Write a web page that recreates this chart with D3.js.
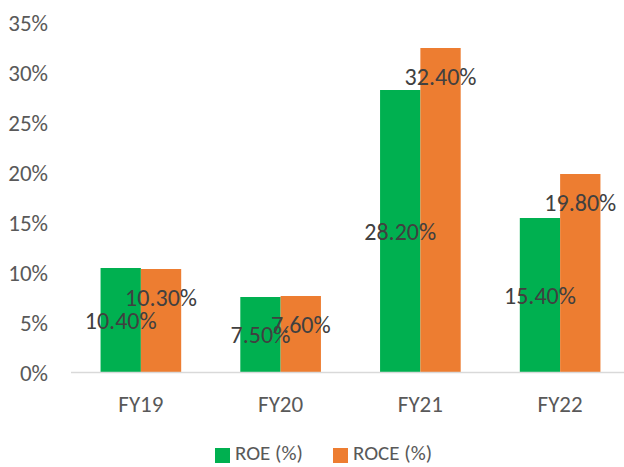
<!DOCTYPE html>
<html><head><meta charset="utf-8">
<script src="https://cdn.jsdelivr.net/npm/d3@7"></script>
<style>html,body{margin:0;padding:0;background:#fff;}</style>
</head><body>
<svg id="chart" width="624" height="467"></svg>
<script>
const categories = ["FY19", "FY20", "FY21", "FY22"];
const roe = [10.4, 7.5, 28.2, 15.4];
const roce = [10.3, 7.6, 32.4, 19.8];
const seriesNames = ["ROE (%)", "ROCE (%)"];
const yTicks = [0, 5, 10, 15, 20, 25, 30, 35];
const colors = ["#00B050", "#ED7D31"];

(function () {
const font = "Carlito, Calibri, Lato, sans-serif";
const svg = d3.select("#chart");
const mLeft = 71, mRight = 630, mTop = 22, mBottom = 372;

const x = d3.scaleBand().domain(categories).range([mLeft, mRight]).paddingInner(0.423).paddingOuter(0.2115);
const x1 = d3.scaleBand().domain([0, 1]).range([0, x.bandwidth()]);
const y = d3.scaleLinear().domain([0, 35]).range([mBottom, mTop]);

const yAxis = d3.axisLeft(y).tickValues(yTicks).tickFormat(d => d + "%").tickSize(0).tickPadding(0);
const gy = svg.append("g").attr("transform", `translate(48,0)`).call(yAxis);
gy.select(".domain").remove();
gy.selectAll("text").attr("font-family", font).attr("font-size", 23).attr("fill", "#595959").attr("dy", "0.36em");

const series = [roe, roce];
series.forEach((vals, si) => {
  svg.append("g").selectAll("rect").data(vals).enter().append("rect")
    .attr("x", (d, i) => x(categories[i]) + x1(si))
    .attr("y", d => y(d))
    .attr("width", x1.bandwidth())
    .attr("height", d => y(0) - y(d))
    .attr("fill", colors[si]);
});

const xAxis = d3.axisBottom(x).tickSize(0).tickPadding(0);
const gx = svg.append("g").attr("transform", `translate(0,${mBottom})`).call(xAxis);
gx.select(".domain").attr("stroke", "#D9D9D9").attr("stroke-width", 1.5).attr("d", `M${mLeft},0.5H${mRight}`);
gx.selectAll("text").attr("font-family", font).attr("font-size", 23).attr("fill", "#595959").attr("dy", "0").attr("y", 40);

series.forEach((vals, si) => {
  svg.append("g").selectAll("text").data(vals).enter().append("text")
    .attr("x", (d, i) => x(categories[i]) + x1(si) + x1.bandwidth() / 2)
    .attr("y", d => si === 0 ? (y(d) + y(0)) / 2 : y(d) + 28)
    .attr("dy", "0.36em")
    .attr("text-anchor", "middle")
    .attr("font-family", font).attr("font-size", 24).attr("fill", "#404040")
    .text(d => d.toFixed(2) + "%");
});

const legendItems = [{name: seriesNames[0], c: colors[0], x: 215}, {name: seriesNames[1], c: colors[1], x: 333}];
const lg = svg.append("g");
legendItems.forEach(it => {
  lg.append("rect").attr("x", it.x).attr("y", 448).attr("width", 15).attr("height", 15).attr("fill", it.c);
  lg.append("text").attr("x", it.x + 20).attr("y", 460).attr("font-family", font).attr("font-size", 21).attr("fill", "#595959").text(it.name);
});
})();
</script>
</body></html>
